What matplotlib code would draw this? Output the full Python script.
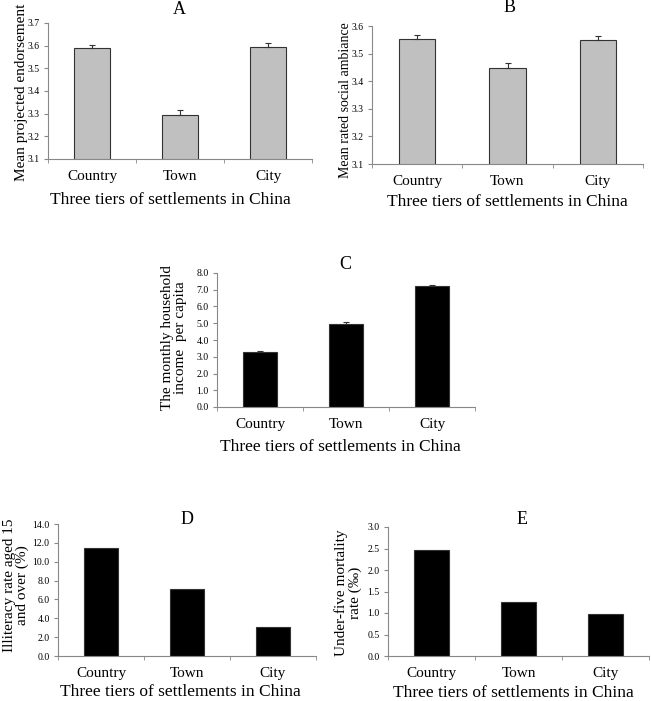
import numpy as np
import matplotlib
matplotlib.use("Agg")
import matplotlib.pyplot as plt

plt.rcParams["font.family"] = ["Liberation Serif", "DejaVu Serif"]

W, H = 651, 701

categories = ["Country", "Town", "City"]

# panel values
endorsement = [3.59, 3.295, 3.595]
endorsement_err = [0.015, 0.022, 0.017]
ambiance = [3.552, 3.447, 3.55]
ambiance_err = [0.015, 0.018, 0.014]
income = [3.3, 4.98, 7.2]
income_err = [0.07, 0.09, 0.07]
illiteracy = [11.5, 7.1, 3.05]
mortality = [2.46, 1.26, 0.97]


def px_axes(fig, left, right, top, bottom):
    return fig.add_axes([left / W, 1 - bottom / H, (right - left) / W, (bottom - top) / H])


def fig_text(fig, x, y, s, **kw):
    fig.text(x / W, 1 - y / H, s, ha="center", va="center", **kw)


def panel(fig, box, values, err, color, ylim, yticks, fmt, title, title_xy,
          ylabel, ylabel_xy, xlabel_xy, ylabel_size=11):
    ax = px_axes(fig, *box)
    x = np.arange(len(categories))
    ax.bar(x, values, width=0.4, color=color, edgecolor="#333333", linewidth=0.8, zorder=2)
    if err is not None:
        ax.errorbar(x, values, yerr=[np.zeros(len(err)), err], fmt="none",
                    ecolor="#333333", elinewidth=0.8, capsize=2, capthick=0.8, zorder=3)
    ax.set_xlim(-0.5, 2.5)
    ax.set_ylim(*ylim)
    ax.set_yticks(yticks)
    ax.set_yticklabels([fmt.format(v) for v in yticks], fontsize=7)
    ax.set_xticks(x)
    ax.set_xticklabels(categories, fontsize=11)
    ax.set_xticks([-0.5, 0.5, 1.5, 2.5], minor=True)
    ax.tick_params(axis="x", which="major", length=0, pad=8)
    ax.tick_params(axis="x", which="minor", length=3, color="#888888", direction="out")
    ax.tick_params(axis="y", length=3, color="#888888", direction="out", pad=3)
    for side in ("top", "right"):
        ax.spines[side].set_visible(False)
    for side in ("left", "bottom"):
        ax.spines[side].set_color("#888888")
        ax.spines[side].set_linewidth(0.8)
    fig_text(fig, *title_xy, title, fontsize=13)
    fig_text(fig, *ylabel_xy, ylabel, fontsize=ylabel_size, rotation=90, linespacing=1.0)
    fig_text(fig, *xlabel_xy, "Three tiers of settlements in China", fontsize=12.5)
    return ax


fig = plt.figure(figsize=(W / 100, H / 100), dpi=100)

panel(fig, (48, 312, 23, 159), endorsement, endorsement_err, "#c0c0c0",
      (3.1, 3.7), np.round(np.arange(3.1, 3.71, 0.1), 1), "{:.1f}",
      "A", (179, 10), "Mean projected endorsement", (22, 92), (170, 200))

panel(fig, (372, 643, 26, 164), ambiance, ambiance_err, "#c0c0c0",
      (3.1, 3.6), np.round(np.arange(3.1, 3.61, 0.1), 1), "{:.1f}",
      "B", (510, 8), "Mean rated social ambiance", (346, 100), (507, 202),
      ylabel_size=10)

panel(fig, (217, 475, 273, 407), income, income_err, "black",
      (0, 8), np.arange(0, 8.1, 1.0), "{:.1f}",
      "C", (345, 265), "The monthly household\nincome  per capita", (174, 338), (340, 447))

panel(fig, (58, 316, 524, 656), illiteracy, None, "black",
      (0, 14), np.arange(0, 14.1, 2.0), "{:.1f}",
      "D", (187, 519), "Illiteracy rate aged 15\nand over (%)", (16, 585), (180, 692))

panel(fig, (388, 649, 527, 656), mortality, None, "black",
      (0, 3), np.arange(0, 3.01, 0.5), "{:.1f}",
      "E", (522, 520), "Under-five mortality\nrate (\u2030)", (348, 593), (513, 693))

fig.savefig("out.png", dpi=100)
